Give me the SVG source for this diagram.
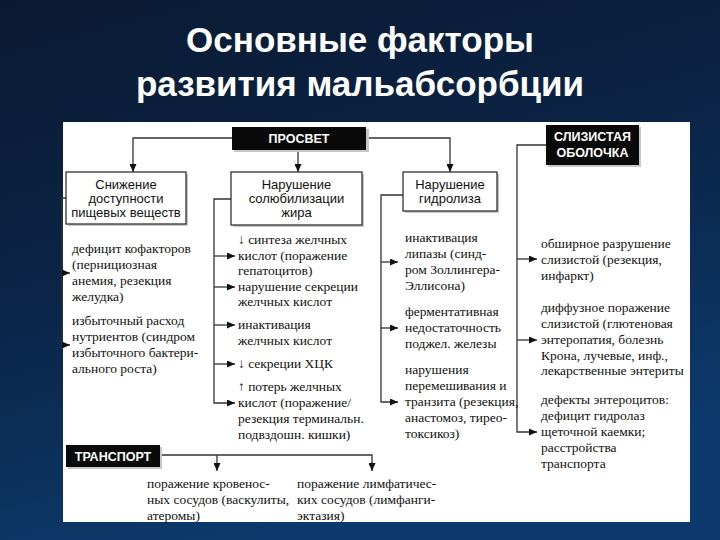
<svg xmlns="http://www.w3.org/2000/svg" width="720" height="540" viewBox="0 0 720 540">
<defs>
<linearGradient id="bg" x1="0" y1="0" x2="0.35" y2="1">
<stop offset="0" stop-color="#0a1a31"/>
<stop offset="0.5" stop-color="#0b2447"/>
<stop offset="1" stop-color="#0c3a6c"/>
</linearGradient>
<marker id="ah" markerWidth="8" markerHeight="7" refX="8" refY="3.5" orient="auto" markerUnits="userSpaceOnUse">
<path d="M0,0 L8,3.5 L0,7 z" fill="#111"/>
</marker>
<style>
.title{font-family:"Liberation Sans",Arial,sans-serif;font-weight:bold;font-size:35px;fill:#fff;text-anchor:middle}
.box{fill:#fff;stroke:#333;stroke-width:1.3}
.shadow{fill:#c8c8c8}
.blk{fill:#0a0a0a}
.bt{font-family:"Liberation Sans",Arial,sans-serif;font-weight:bold;font-size:12.5px;fill:#fff;text-anchor:middle}
.st{font-family:"Liberation Sans",Arial,sans-serif;font-size:13px;fill:#111;text-anchor:middle}
.t{font-family:"Liberation Serif","Times New Roman",serif;font-size:13.5px;fill:#111}
.c{fill:none;stroke:#333;stroke-width:1.3}
</style>
</defs>
<rect width="720" height="540" fill="url(#bg)"/>
<text class="title" x="360" y="52">Основные факторы</text>
<text class="title" x="360" y="96">развития мальабсорбции</text>
<rect x="63" y="122" width="627" height="400" fill="#fff"/>

<g id="connectors">
<path class="c" d="M232,138 H133 V172" marker-end="url(#ah)"/>
<path class="c" d="M298,150 V172" marker-end="url(#ah)"/>
<path class="c" d="M366,138 H450 V172" marker-end="url(#ah)"/>
<path class="c" d="M546,145 H517 V432 H537" marker-end="url(#ah)"/>
<path class="c" d="M517,259 H537" marker-end="url(#ah)"/>
<path class="c" d="M517,340 H537" marker-end="url(#ah)"/>
<path class="c" d="M66,198 H62 V345 H70" marker-end="url(#ah)"/>
<path class="c" d="M62,273 H70" marker-end="url(#ah)"/>
<path class="c" d="M231,199 H214 V403 H235" marker-end="url(#ah)"/>
<path class="c" d="M214,256 H235" marker-end="url(#ah)"/>
<path class="c" d="M214,287 H235" marker-end="url(#ah)"/>
<path class="c" d="M214,325 H235" marker-end="url(#ah)"/>
<path class="c" d="M214,364 H235" marker-end="url(#ah)"/>
<path class="c" d="M403,195 H381 V402 H398" marker-end="url(#ah)"/>
<path class="c" d="M381,262 H398" marker-end="url(#ah)"/>
<path class="c" d="M381,328 H398" marker-end="url(#ah)"/>
<path class="c" d="M160,455 H372 V471" marker-end="url(#ah)"/>
<path class="c" d="M217,455 V471" marker-end="url(#ah)"/>
</g>

<g id="prosvet">
<rect class="shadow" x="234" y="129" width="135" height="23"/>
<rect class="blk" x="232" y="127" width="134" height="23"/>
<text class="bt" x="299" y="143">ПРОСВЕТ</text>
</g>
<g id="slizistaya">
<rect class="shadow" x="548" y="127" width="93" height="40"/>
<rect class="blk" x="546" y="125" width="93" height="40"/>
<text class="bt" x="592.5" y="141">СЛИЗИСТАЯ</text>
<text class="bt" x="592.5" y="157">ОБОЛОЧКА</text>
</g>
<g id="transport">
<rect class="shadow" x="68" y="447" width="94" height="22"/>
<rect class="blk" x="66" y="445" width="94" height="22"/>
<text class="bt" x="113" y="460.5">ТРАНСПОРТ</text>
</g>

<g id="snizhenie">
<rect class="shadow" x="68" y="174" width="120" height="52"/>
<rect class="box" x="66" y="172" width="120" height="52"/>
<text class="st" x="126" y="189">Снижение</text>
<text class="st" x="126" y="203">доступности</text>
<text class="st" x="126" y="217">пищевых веществ</text>
</g>
<g id="solyub">
<rect class="shadow" x="233" y="174" width="131" height="53"/>
<rect class="box" x="231" y="172" width="131" height="53"/>
<text class="st" x="296.5" y="189">Нарушение</text>
<text class="st" x="296.5" y="203">солюбилизации</text>
<text class="st" x="296.5" y="217">жира</text>
</g>
<g id="gidroliz">
<rect class="shadow" x="405" y="174" width="94" height="39"/>
<rect class="box" x="403" y="172" width="94" height="39"/>
<text class="st" x="450" y="189">Нарушение</text>
<text class="st" x="450" y="203">гидролиза</text>
</g>

<g id="kofaktor">
<text class="t" x="72" y="253">дефицит кофакторов</text>
<text class="t" x="72" y="269">(пернициозная</text>
<text class="t" x="72" y="285">анемия, резекция</text>
<text class="t" x="72" y="301">желудка)</text>
</g>
<g id="rashod">
<text class="t" x="72" y="325">избыточный расход</text>
<text class="t" x="72" y="341">нутриентов (синдром</text>
<text class="t" x="72" y="357">избыточного бактери-</text>
<text class="t" x="72" y="373">ального роста)</text>
</g>

<g id="sintez">
<text class="t" x="238" y="244">↓ синтеза желчных</text>
<text class="t" x="238" y="260">кислот (поражение</text>
<text class="t" x="238" y="275">гепатоцитов)</text>
</g>
<g id="sekreciya">
<text class="t" x="238" y="291">нарушение секреции</text>
<text class="t" x="238" y="306">желчных кислот</text>
</g>
<g id="inakt-zh">
<text class="t" x="238" y="329">инактивация</text>
<text class="t" x="238" y="345">желчных кислот</text>
</g>
<g id="hck">
<text class="t" x="238" y="368">↓ секреции ХЦК</text>
</g>
<g id="poteri">
<text class="t" x="238" y="391">↑ потерь желчных</text>
<text class="t" x="238" y="407">кислот (поражение/</text>
<text class="t" x="238" y="423">резекция терминальн.</text>
<text class="t" x="238" y="439">подвздошн. кишки)</text>
</g>

<g id="lipaza">
<text class="t" x="405" y="242">инактивация</text>
<text class="t" x="405" y="258">липазы (синд-</text>
<text class="t" x="405" y="274">ром Золлингера-</text>
<text class="t" x="405" y="290">Эллисона)</text>
</g>
<g id="fermet">
<text class="t" x="405" y="316">ферментативная</text>
<text class="t" x="405" y="332">недостаточность</text>
<text class="t" x="405" y="348">поджел. железы</text>
</g>
<g id="tranzit">
<text class="t" x="405" y="374">нарушения</text>
<text class="t" x="405" y="390">перемешивания и</text>
<text class="t" x="405" y="406">транзита (резекция,</text>
<text class="t" x="405" y="422">анастомоз, тирео-</text>
<text class="t" x="405" y="438">токсикоз)</text>
</g>

<g id="obshirnoe">
<text class="t" x="541" y="248">обширное разрушение</text>
<text class="t" x="541" y="264">слизистой (резекция,</text>
<text class="t" x="541" y="280">инфаркт)</text>
</g>
<g id="diffuznoe">
<text class="t" x="541" y="312">диффузное поражение</text>
<text class="t" x="541" y="328">слизистой (глютеновая</text>
<text class="t" x="541" y="344">энтеропатия, болезнь</text>
<text class="t" x="541" y="360">Крона, лучевые, инф.,</text>
<text class="t" x="541" y="375">лекарственные энтериты</text>
</g>
<g id="defekty">
<text class="t" x="541" y="404">дефекты энтероцитов:</text>
<text class="t" x="541" y="420">дефицит гидролаз</text>
<text class="t" x="541" y="436">щеточной каемки;</text>
<text class="t" x="541" y="452">расстройства</text>
<text class="t" x="541" y="468">транспорта</text>
</g>

<g id="krov">
<text class="t" x="147" y="488">поражение кровенос-</text>
<text class="t" x="147" y="504">ных сосудов (васкулиты,</text>
<text class="t" x="147" y="520">атеромы)</text>
</g>
<g id="limf">
<text class="t" x="297" y="488">поражение лимфатичес-</text>
<text class="t" x="297" y="504">ких сосудов (лимфанги-</text>
<text class="t" x="297" y="520">эктазия)</text>
</g>
</svg>
